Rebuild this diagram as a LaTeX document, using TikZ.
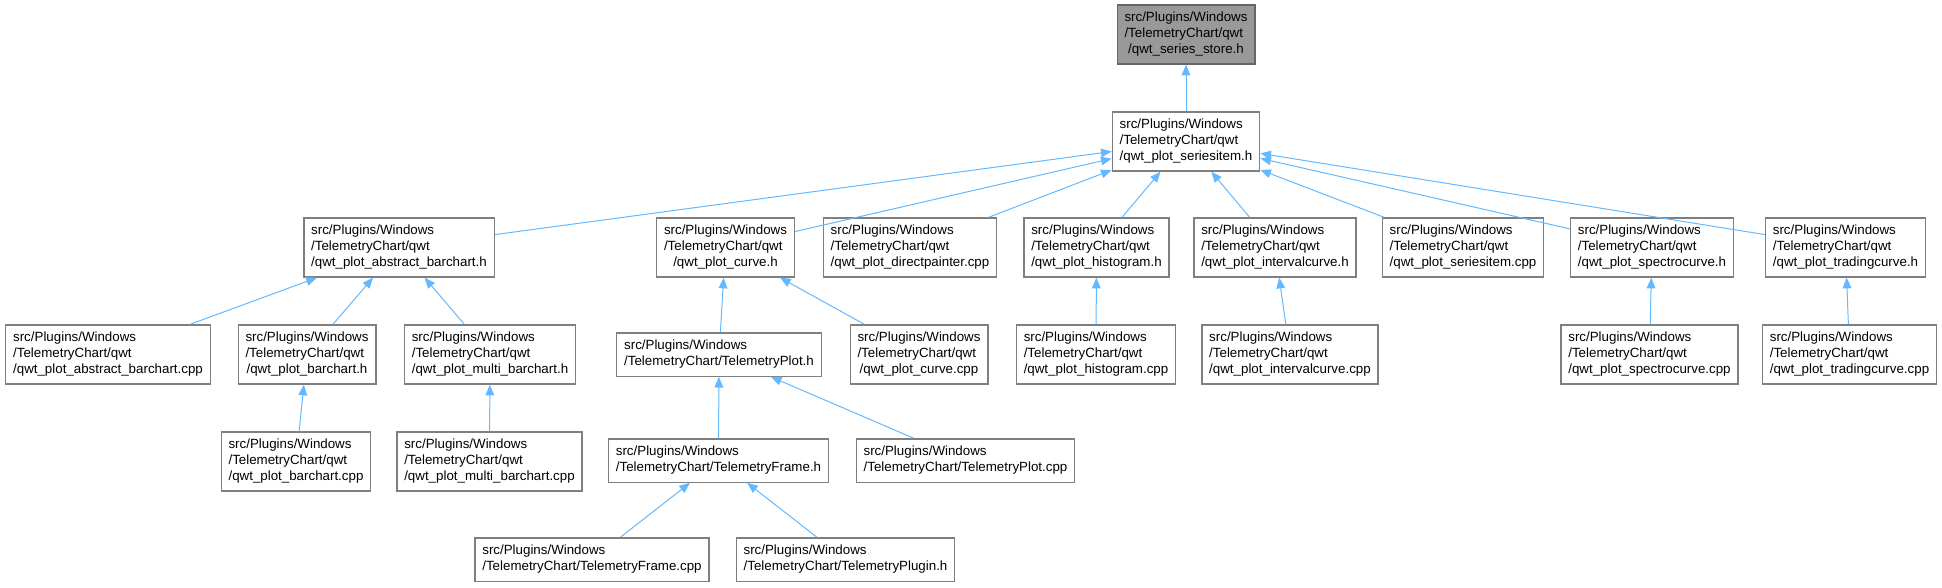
\documentclass[tikz,border=0pt]{standalone}
\usepackage{fontspec}
\setmainfont{Liberation Sans}
\usetikzlibrary{arrows.meta}
\definecolor{edgeblue}{HTML}{63B8FF}
\definecolor{boxgray}{HTML}{999999}
\definecolor{boxborder}{HTML}{7F7F7F}
\definecolor{rootborder}{HTML}{666666}
\newcommand{\threel}[3]{\begin{tabular}{@{}l@{}}#1\\#2\\\multicolumn{1}{@{}c@{}}{#3}\end{tabular}}
\newcommand{\twol}[2]{\begin{tabular}{@{}l@{}}#1\\\multicolumn{1}{@{}c@{}}{#2}\end{tabular}}
\tikzset{
  filebox/.style={draw=boxborder, fill=white, line width=1pt, inner xsep=5.5pt, inner ysep=0pt, font=\fontsize{10pt}{12pt}\selectfont},
  box3/.style={filebox, minimum height=44.25pt},
  box2/.style={filebox, minimum height=32.5pt},
  rootbox/.style={box3, fill=boxgray, draw=rootborder},
  edge/.style={draw=edgeblue, line width=0.75pt, {Triangle[length=8pt,width=6.5pt]}-}
}
\begin{document}
\begin{tikzpicture}[x=0.75pt,y=-0.75pt]
\useasboundingbox (0,0) rectangle (1942,587);
% row 0 and 1
\node[rootbox] (store) at (1186,34.5) {\threel{src/Plugins/Windows}{/TelemetryChart/qwt}{/qwt\_series\_store.h}};
\node[box3] (si) at (1186,141.5) {\threel{src/Plugins/Windows}{/TelemetryChart/qwt}{/qwt\_plot\_seriesitem.h}};
% row 2
\node[box3] (abh) at (399,247.5) {\threel{src/Plugins/Windows}{/TelemetryChart/qwt}{/qwt\_plot\_abstract\_barchart.h}};
\node[box3] (curveh) at (725.5,247.5) {\threel{src/Plugins/Windows}{/TelemetryChart/qwt}{/qwt\_plot\_curve.h}};
\node[box3] (dpcpp) at (910,247.5) {\threel{src/Plugins/Windows}{/TelemetryChart/qwt}{/qwt\_plot\_directpainter.cpp}};
\node[box3] (histh) at (1096.5,247.5) {\threel{src/Plugins/Windows}{/TelemetryChart/qwt}{/qwt\_plot\_histogram.h}};
\node[box3] (intvh) at (1275,247.5) {\threel{src/Plugins/Windows}{/TelemetryChart/qwt}{/qwt\_plot\_intervalcurve.h}};
\node[box3] (sicpp) at (1463,247.5) {\threel{src/Plugins/Windows}{/TelemetryChart/qwt}{/qwt\_plot\_seriesitem.cpp}};
\node[box3] (spech) at (1652,247.5) {\threel{src/Plugins/Windows}{/TelemetryChart/qwt}{/qwt\_plot\_spectrocurve.h}};
\node[box3] (trdh) at (1845.5,247.5) {\threel{src/Plugins/Windows}{/TelemetryChart/qwt}{/qwt\_plot\_tradingcurve.h}};
% row 3
\node[box3] (abcpp) at (108,354.5) {\threel{src/Plugins/Windows}{/TelemetryChart/qwt}{/qwt\_plot\_abstract\_barchart.cpp}};
\node[box3] (barh) at (307,354.5) {\threel{src/Plugins/Windows}{/TelemetryChart/qwt}{/qwt\_plot\_barchart.h}};
\node[box3] (mbarh) at (490,354.5) {\threel{src/Plugins/Windows}{/TelemetryChart/qwt}{/qwt\_plot\_multi\_barchart.h}};
\node[box2] (tploth) at (719,354.5) {\twol{src/Plugins/Windows}{/TelemetryChart/TelemetryPlot.h}};
\node[box3] (curvecpp) at (919,354.5) {\threel{src/Plugins/Windows}{/TelemetryChart/qwt}{/qwt\_plot\_curve.cpp}};
\node[box3] (histcpp) at (1096,354.5) {\threel{src/Plugins/Windows}{/TelemetryChart/qwt}{/qwt\_plot\_histogram.cpp}};
\node[box3] (intvcpp) at (1290,354.5) {\threel{src/Plugins/Windows}{/TelemetryChart/qwt}{/qwt\_plot\_intervalcurve.cpp}};
\node[box3] (speccpp) at (1649.5,354.5) {\threel{src/Plugins/Windows}{/TelemetryChart/qwt}{/qwt\_plot\_spectrocurve.cpp}};
\node[box3] (trdcpp) at (1849.5,354.5) {\threel{src/Plugins/Windows}{/TelemetryChart/qwt}{/qwt\_plot\_tradingcurve.cpp}};
% row 4
\node[box3] (barcpp) at (296,461.5) {\threel{src/Plugins/Windows}{/TelemetryChart/qwt}{/qwt\_plot\_barchart.cpp}};
\node[box3] (mbarcpp) at (489.5,461.5) {\threel{src/Plugins/Windows}{/TelemetryChart/qwt}{/qwt\_plot\_multi\_barchart.cpp}};
\node[box2] (tframeh) at (718.5,460.5) {\twol{src/Plugins/Windows}{/TelemetryChart/TelemetryFrame.h}};
\node[box2] (tplotcpp) at (965.5,460.5) {\twol{src/Plugins/Windows}{/TelemetryChart/TelemetryPlot.cpp}};
% row 5
\node[box2] (tframecpp) at (592,559.5) {\twol{src/Plugins/Windows}{/TelemetryChart/TelemetryFrame.cpp}};
\node[box2] (tplugh) at (845.5,559.5) {\twol{src/Plugins/Windows}{/TelemetryChart/TelemetryPlugin.h}};
% edges (arrow at the included-by parent)
\draw[edge] (store) -- (si);
\foreach \c in {abh,curveh,dpcpp,histh,intvh,sicpp,spech,trdh} \draw[edge] (si) -- (\c);
\foreach \c in {abcpp,barh,mbarh} \draw[edge] (abh) -- (\c);
\draw[edge] (barh) -- (barcpp);
\draw[edge] (mbarh) -- (mbarcpp);
\draw[edge] (curveh) -- (tploth);
\draw[edge] (curveh) -- (curvecpp);
\draw[edge] (histh) -- (histcpp);
\draw[edge] (intvh) -- (intvcpp);
\draw[edge] (spech) -- (speccpp);
\draw[edge] (trdh) -- (trdcpp);
\draw[edge] (tploth) -- (tframeh);
\draw[edge] (tploth) -- (tplotcpp);
\draw[edge] (tframeh) -- (tframecpp);
\draw[edge] (tframeh) -- (tplugh);
\end{tikzpicture}
\end{document}
